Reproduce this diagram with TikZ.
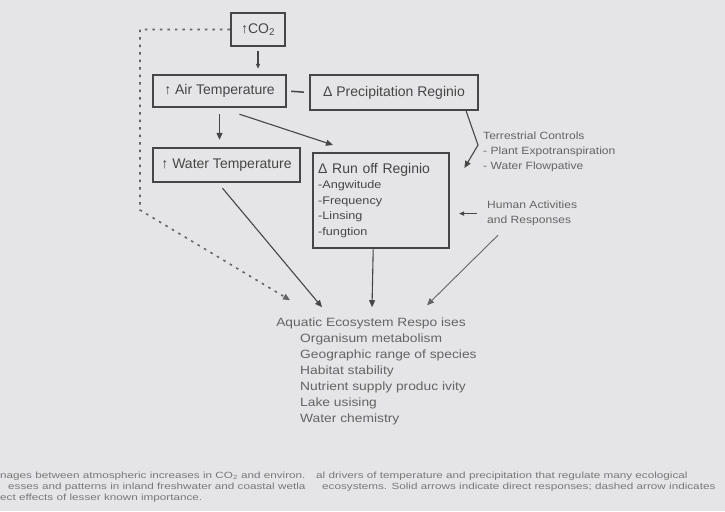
\documentclass[tikz,border=0pt]{standalone}
\usepackage{fontspec}
\setmainfont{Liberation Sans}
\newfontfamily\widefont[FakeStretch=1.15]{Liberation Sans}
\newfontfamily\capfont[FakeStretch=1.3]{Liberation Sans}
\usetikzlibrary{arrows.meta,calc}
\definecolor{scanbg}{RGB}{229,229,231}
\definecolor{ink}{RGB}{70,70,70}
\definecolor{softink}{RGB}{100,100,100}
\definecolor{capink}{RGB}{120,120,120}

\begin{document}
\begin{tikzpicture}[x=1pt, y=-1pt,
  box/.style = {draw=ink, line width=2.4pt, inner sep=4pt, text=ink, font=\fontsize{14}{16}\selectfont},
  arr/.style = {-{Triangle[length=7pt,width=6pt]}, draw=ink, line width=1.1pt},
  note/.style = {align=left, text=softink, inner sep=0pt, anchor=north west, font=\widefont\fontsize{10.5}{15}\selectfont},
  faint/.style = {draw=softink, line width=1.6pt, dash pattern=on 2.5pt off 5pt},
  caption/.style = {align=left, text=capink, inner sep=0pt, anchor=north west, font=\capfont\fontsize{9}{11}\selectfont}]
\fill [scanbg] (0,0) rectangle (725,511);
\useasboundingbox (0,0) rectangle (725,511);

\node [box, minimum width=54pt, minimum height=33pt] (co2) at (258,29.5) {↑CO\textsubscript{2}};
\node [box, minimum width=133pt, minimum height=32pt] (air) at (219.5,91) {↑ Air Temperature};
\node [box, minimum width=168pt, minimum height=35pt] (precip) at (394,92.5) {Δ Precipitation Reginio};
\node [box, minimum width=147pt, minimum height=34pt] (water) at (226.5,165) {↑ Water Temperature};
\node [box, anchor=north west, minimum width=136pt, minimum height=95pt, text width=126pt, align=left] (runoff) at (312,152)
  {Δ Run off Reginio\\ {\widefont\fontsize{11}{15.5}\selectfont -Angwitude\\ -Frequency\\ -Linsing\\ -fungtion}};

\node [note] (terr) at (483,132) {Terrestrial Controls\\ - Plant Expotranspiration\\ - Water Flowpative};
\node [note] (human) at (487,201) {Human Activities\\ and Responses};

\node [text=softink, inner sep=1pt, font=\widefont\fontsize{12}{16}\selectfont] (aq) at (371,323) {Aquatic Ecosystem Respo ises};
\node [note, font=\widefont\fontsize{12}{16}\selectfont] (aqlist) at (300,334)
  {Organisum metabolism\\ Geographic range of species\\ Habitat stability\\ Nutrient supply produc ivity\\ Lake usising\\ Water chemistry};

\coordinate (bend) at (140,210);

\draw [arr, -{Triangle[length=5pt,width=4pt]}, shorten <=4pt, shorten >=5pt] (co2.south) -- (co2.south |- air.north);
\draw [ink, line width=1.5pt, shorten <=4pt, shorten >=5pt] (air.east) -- (precip.west);
\draw [arr, shorten <=6pt, shorten >=7pt] (air.south) -- (air.south |- water.north);
\draw [arr] ($(air.south)+(20,6)$) -- ($(runoff.north west)+(21,-7)$);
\draw [arr] ($(precip.south east)+(-13,0)$) -- ($(terr.west)+(-5,-7)$) -- ($(runoff.north east)+(14,16)$);
\draw [arr, -{Triangle[length=5pt,width=4pt]}, line width=1.5pt, shorten <=10pt] (human.west) -- ($(human.west)+(-28,0)$);
\draw [arr] ($(water.south)+(-4,5)$) -- ($(aq.north)+(-49,-9)$);
\draw [arr] ($(runoff.south)+(-8,0)$) -- ($(aq.north)+(1,-9)$);
\draw [arr, draw=softink, line width=0.9pt] ($(human.south west)+(11,9)$) -- ($(aq.north)+(56,-11)$);
\draw [faint, -{Triangle[length=7pt,width=6pt]}] (co2.west) -| (bend) -- ($(aq.north west)+(15,-16)$);

\node [caption] (capleft) at (0,472) {nages between atmospheric increases in CO\textsubscript{2} and environ.\\
  \hspace*{8pt}esses and patterns in inland freshwater and coastal wetla\\
  ect effects of lesser known importance.};
\node [caption] (capright) at (316,472) {al drivers of temperature and precipitation that regulate many ecological\\
  \hspace*{6pt}ecosystems. Solid arrows indicate direct responses; dashed arrow indicates};
\end{tikzpicture}
\end{document}
